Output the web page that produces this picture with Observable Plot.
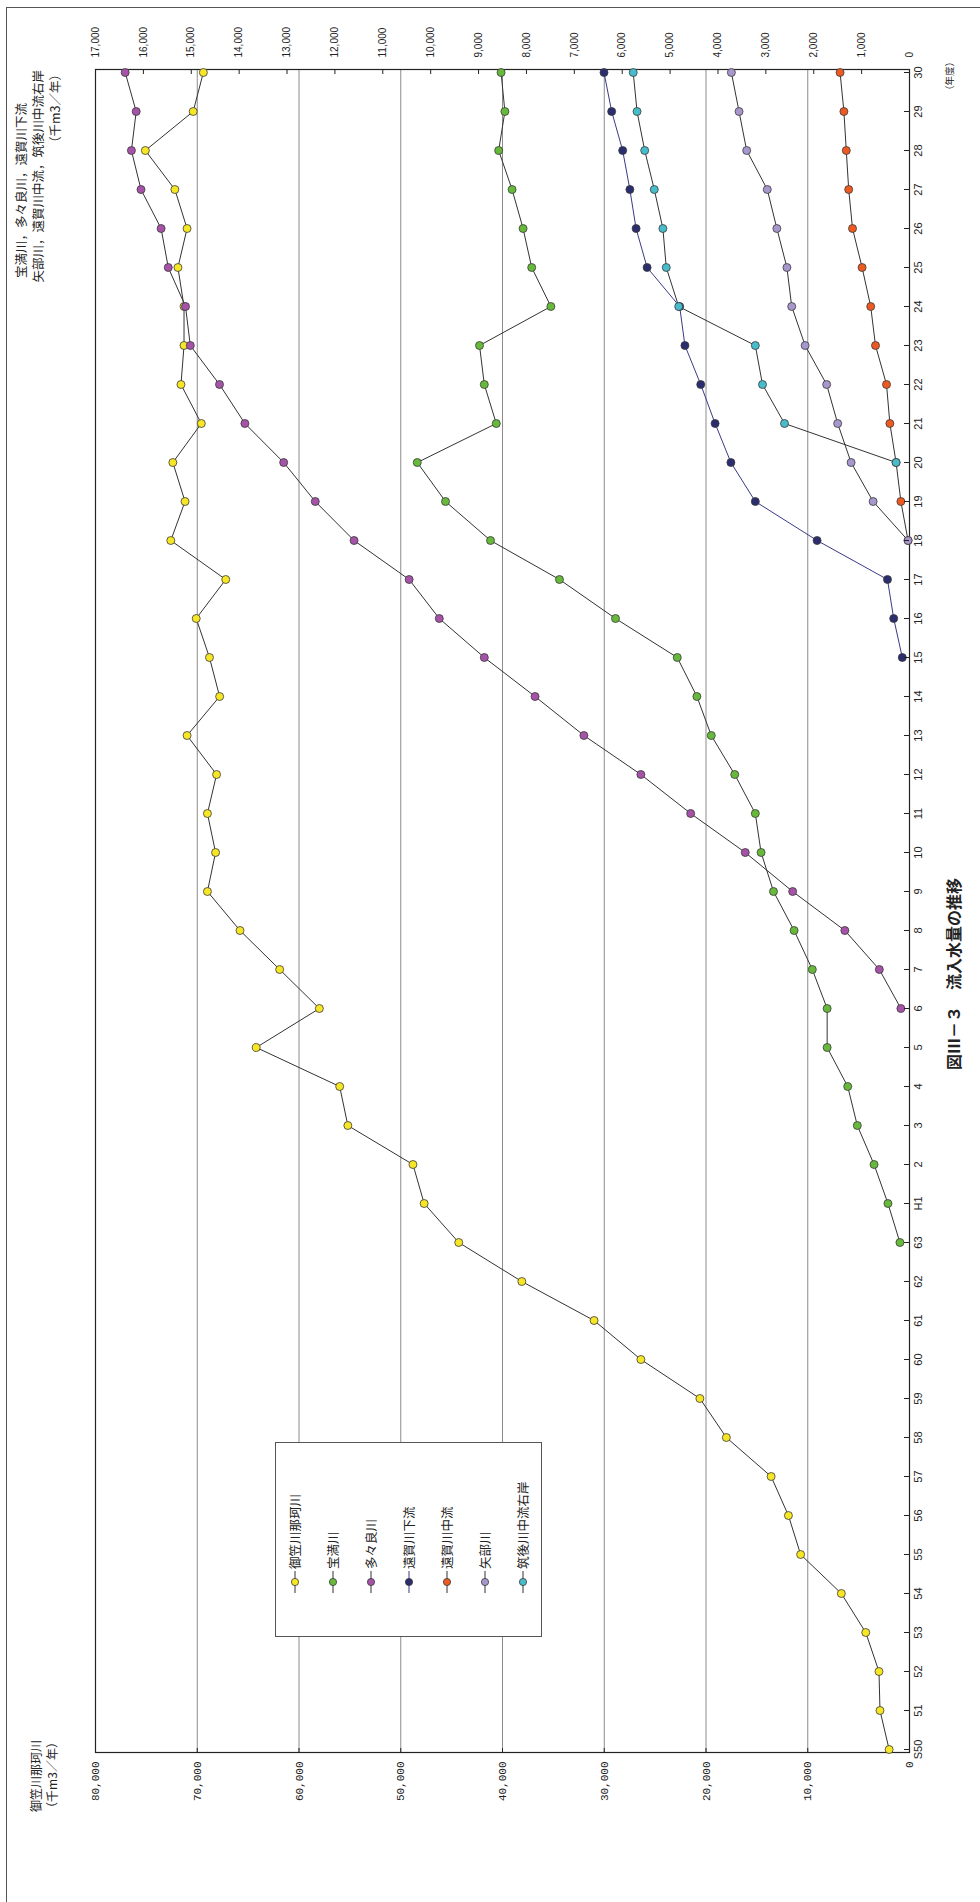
<!DOCTYPE html>
<html lang="ja">
<head>
<meta charset="utf-8">
<script src="https://cdn.jsdelivr.net/npm/d3@7"></script>
<script src="https://cdn.jsdelivr.net/npm/@observablehq/plot@0.6"></script>
<style>
html, body { margin:0; padding:0; background:#fff; width:980px; height:1902px; overflow:hidden; }
#page { position:absolute; left:0; top:0; width:1902px; height:980px; transform-origin:0 0;
  transform: translate(0px, 1902px) rotate(-90deg); background:#fff;
  font-family:"Noto Sans CJK JP","Noto Sans",sans-serif; color:#222; }
#border { position:absolute; left:-20px; top:6px; width:1915px; height:1000px; box-sizing:border-box;
  border-top:1.5px solid #555; border-right:1.5px solid #555; }
#chart { position:absolute; left:0; top:0; }
.t { position:absolute; white-space:nowrap; line-height:1; }
#legend { position:absolute; left:265px; top:275px; width:195px; height:267px; box-sizing:border-box;
  border:1px solid #555; background:#fff; }
</style>
</head>
<body>
<div id="page">
  <div id="border"></div>
  <div id="chart"></div>
  <div id="legend"></div>
</div>
<script>
// ---- data ----
const yearLabels = ["S50","51","52","53","54","55","56","57","58","59","60","61","62","63",
  "H1","2","3","4","5","6","7","8","9","10","11","12","13","14","15","16","17","18","19","20",
  "21","22","23","24","25","26","27","28","29","30"];

const seriesNames = ["御笠川那珂川","宝満川","多々良川","遠賀川下流","遠賀川中流","矢部川","筑後川中流右岸"];
const seriesColors = ["#f6e626","#66b93a","#a552a8","#2b2e6e","#ec5a22","#a797cd","#47bccb"];
const lineColors = ["#333","#333","#333","#3a3a86","#333","#333","#333"];

// 御笠川那珂川 (左軸, S50–H30)
const mikasaNaka = [2000,2900,3000,4300,6700,10700,11900,13600,18000,20600,26400,31000,38100,44300,
  47700,48800,55200,56000,64200,58000,61900,65800,69000,68200,
  69000,68100,71000,67800,68800,70100,67200,72600,71200,72400,
  69600,71600,71300,71300,71900,71000,72200,75100,70400,69400];
// 宝満川 (右軸, S63–H30)
const houman = [200,
  450,740,1090,1290,1720,1720,2030,2410,2840,3100,
  3220,3650,4140,4440,4850,6140,7310,8750,9690,10280,
  8630,8880,8980,7490,7890,8070,8300,8580,8450,8530];
// 多々良川 (右軸, H6–H30)
const tatara = [180,630,1350,2440,3430,4570,5610,6800,7820,8880,
  9820,10450,11600,12410,13070,13880,14410,15020,15120,15480,
  15630,16050,16250,16150,16380];
// 遠賀川下流 (右軸, H15–H30)
const ongaLower = [150,330,460,1930,3220,3730,4060,4360,4690,4800,5480,5710,5840,5990,6220,6380];
// 遠賀川中流 (右軸, H18–H30)
const ongaMiddle = [30,180,280,410,480,710,810,990,1190,1270,1320,1370,1450];
// 矢部川 (右軸, H18–H30)
const yabe = [30,760,1220,1500,1730,2180,2460,2560,2770,2970,3400,3560,3720];
// 筑後川中流右岸 (右軸, H20–H30)
const chikugo = [280,2610,3070,3220,4820,5080,5150,5330,5530,5690,5770];

const leftTicks = [0,10000,20000,30000,40000,50000,60000,70000,80000];
const rightTicks = [0,1000,2000,3000,4000,5000,6000,7000,8000,9000,10000,11000,12000,13000,14000,15000,16000,17000];

// ---- build ----
const LEFT_MAX = 80000, RIGHT_MAX = 17000;
const K = LEFT_MAX / RIGHT_MAX;
const seriesValues = [mikasaNaka, houman, tatara, ongaLower, ongaMiddle, yabe, chikugo];
const seriesAxis = ["left","right","right","right","right","right","right"];

const rows = [];
seriesValues.forEach((vals, si) => {
  const offset = yearLabels.length - vals.length;
  vals.forEach((v, i) => {
    rows.push({name: seriesNames[si], si, year: yearLabels[offset + i], value: v,
      y: seriesAxis[si] === "left" ? v : v * K});
  });
});

const marks = [
  Plot.gridY(leftTicks.filter(t => t > 0 && t < LEFT_MAX), {stroke:"#8c8c8c", strokeOpacity:1, strokeWidth:1}),
  Plot.frame({stroke:"#222", strokeWidth:1.2})
];
seriesNames.forEach((name, si) => {
  const data = rows.filter(d => d.si === si);
  marks.push(Plot.line(data, {x:"year", y:"y", stroke: lineColors[si], strokeWidth:1}));
  marks.push(Plot.dot(data, {x:"year", y:"y", r:4, fill: seriesColors[si], stroke:"#3a3a3a", strokeWidth:0.8}));
});
marks.push(Plot.axisY(leftTicks, {anchor:"left", tickSize:-5, tickPadding:14, label:null,
  tickFormat: d3.format(","), fontFamily:"Liberation Mono, DejaVu Sans Mono, monospace", fontSize:11}));
marks.push(Plot.axisY(rightTicks.map(v => v * K), {anchor:"right", tickSize:-5, tickPadding:17, label:null,
  tickFormat: d => d3.format(",")(Math.round(d / K)), fontFamily:"Liberation Sans, Arial, sans-serif", fontSize:10}));
marks.push(Plot.axisX(yearLabels, {anchor:"bottom", tickSize:-5, tickPadding:10, label:null,
  fontFamily:"Liberation Sans Narrow, Arial Narrow, Liberation Sans, sans-serif", fontSize:11}));

const chart = Plot.plot({
  width: 1902, height: 980,
  marginLeft: 149, marginRight: 70, marginTop: 95, marginBottom: 71,
  x: {type:"point", domain: yearLabels, padding: 0, label: null},
  y: {domain: [0, LEFT_MAX], label: null},
  style: {background:"transparent", overflow:"visible", color:"#222"},
  marks
});
document.getElementById("chart").appendChild(chart);

// ---- texts ----
const page = document.getElementById("page");
function addText(str, x, y, {anchor="middle", size=12, weight="normal", family=null} = {}) {
  const el = document.createElement("div");
  el.className = "t";
  el.textContent = str;
  el.style.left = x + "px";
  el.style.top = y + "px";
  el.style.fontSize = size + "px";
  el.style.fontWeight = weight;
  if (family) el.style.fontFamily = family;
  const tx = anchor === "middle" ? "-50%" : anchor === "end" ? "-100%" : "0";
  el.style.transform = `translate(${tx}, -50%)`;
  page.appendChild(el);
}
addText("図Ⅲ－３　流入水量の推移", 928, 953, {size:16, weight:"bold"});
addText("御笠川那珂川", 126, 36, {size:12});
addText("（千m3／年）", 127, 52, {size:12});
addText("宝満川，多々良川，遠賀川下流", 1799, 21, {anchor:"end", size:12.5});
addText("矢部川，遠賀川中流，筑後川中流右岸", 1832, 38, {anchor:"end", size:12.5});
addText("（千m3／年）", 1834, 55, {anchor:"end", size:12.5});
addText("（年度）", 1826, 950, {size:9.5});

// ---- legend ----
const legend = document.getElementById("legend");
seriesNames.forEach((name, si) => {
  const cy = 294 + 38 * si - 275;
  const row = document.createElement("div");
  row.style.cssText = `position:absolute;left:42px;top:${cy - 8}px;height:16px;display:flex;align-items:center;white-space:nowrap;`;
  const ns = "http://www.w3.org/2000/svg";
  const svg = document.createElementNS(ns, "svg");
  svg.setAttribute("width", "24"); svg.setAttribute("height", "16");
  const ln = document.createElementNS(ns, "line");
  ln.setAttribute("x1", 1); ln.setAttribute("x2", 23); ln.setAttribute("y1", 8); ln.setAttribute("y2", 8);
  ln.setAttribute("stroke", lineColors[si]); ln.setAttribute("stroke-width", 1);
  const c = document.createElementNS(ns, "circle");
  c.setAttribute("cx", 12); c.setAttribute("cy", 8); c.setAttribute("r", 3.6);
  c.setAttribute("fill", seriesColors[si]); c.setAttribute("stroke", "#3a3a3a"); c.setAttribute("stroke-width", 0.8);
  svg.appendChild(ln); svg.appendChild(c);
  const sp = document.createElement("span");
  sp.textContent = name;
  sp.style.cssText = "font-size:12.5px;line-height:1;margin-left:1px;";
  row.appendChild(svg); row.appendChild(sp);
  legend.appendChild(row);
});
</script>
</body>
</html>
